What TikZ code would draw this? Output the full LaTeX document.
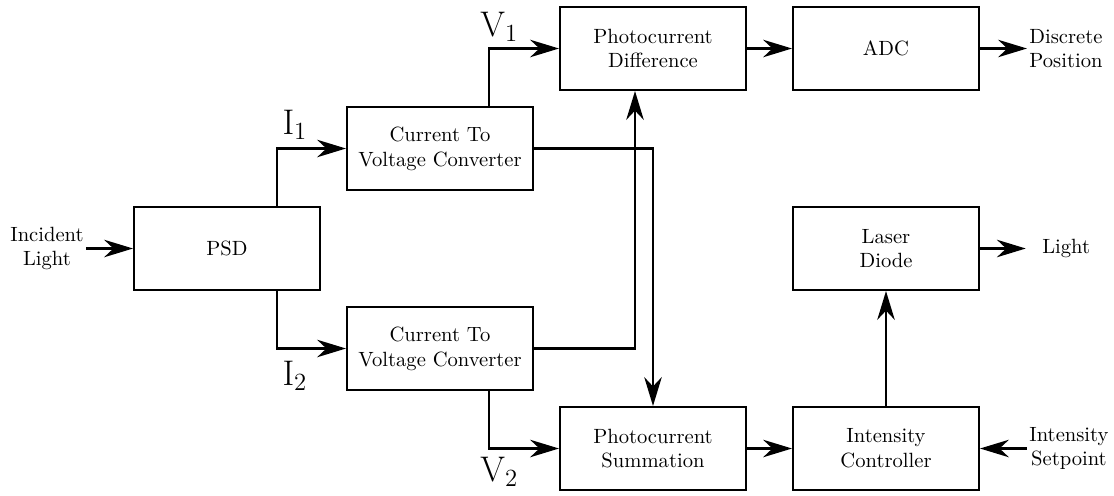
\documentclass[tikz,border=0pt]{standalone}
\usepackage{tikz}
\usetikzlibrary{positioning,arrows.meta,calc}

\begin{document}
\begin{tikzpicture}[x=1.706cm, y=1.706cm,
  blk/.style={rectangle, draw, line width=1pt, minimum width=3.173cm,
              minimum height=1.416cm, align=center, font=\normalsize},
  ar/.style={-{Stealth[length=14pt, width=8.5pt, inset=4.5pt]}, line width=1pt},
  io/.style={align=center, inner sep=1pt},
  sig/.style={font=\LARGE, inner sep=1pt}
]
\useasboundingbox (0,-0.465) rectangle (11.14,4.485);

\node[blk] (psd)   at (2.27,2) {PSD};
\node[blk] (cv1)   at (4.40,3) {Current To\\Voltage Converter};
\node[blk] (cv2)   at (4.40,1) {Current To\\Voltage Converter};
\node[blk] (diff)  at (6.53,4) {Photocurrent\\Difference};
\node[blk] (sum)   at (6.53,0) {Photocurrent\\Summation};
\node[blk] (adc)   at (8.86,4) {ADC};
\node[blk] (laser) at (8.86,2) {Laser\\Diode};
\node[blk] (ctrl)  at (8.86,0) {Intensity\\Controller};

\node[io, left=0.8cm of psd]     (inc)   {Incident\\Light};
\node[io, right=0.8cm of adc]    (pos)   {Discrete\\Position};
\node[io, right=1.02cm of laser] (light) {Light};
\node[io, right=0.8cm of ctrl]   (setp)  {Intensity\\Setpoint};

\coordinate (k1) at ($(psd)+(0.5,1)$);
\coordinate (k2) at ($(psd)+(0.5,-1)$);
\coordinate (k3) at ($(cv1)+(0.49,1)$);
\coordinate (k4) at ($(cv2)+(0.49,-1)$);
\coordinate (k5) at ($(diff.south)+(-0.18,0)$);

\draw[ar] (k1 |- psd.north) |- (cv1);
\draw[ar] (k2 |- psd.south) |- (cv2);
\draw[ar] (k3 |- cv1.north) |- (diff);
\draw[ar] (k4 |- cv2.south) |- (sum);
\draw[ar] (cv1) -| (sum);
\draw[ar] (cv2) -| (k5);

\foreach \a/\b in {inc/psd,diff/adc,adc/pos,sum/ctrl,setp/ctrl,ctrl/laser}
  \draw[ar] (\a) -- (\b);
\draw[ar, shorten >=0.24cm] (laser) -- (light);

\node[sig, above right=3pt and 1.5pt of k1] (li1) {$\mathrm{I}_1$};
\node[sig, below right=5pt and 1.5pt of k2] (li2) {$\mathrm{I}_2$};
\node[sig, above=2pt of k3, xshift=5pt]     (lv1) {$\mathrm{V}_1$};
\node[sig, below=3pt of k4, xshift=5pt]     (lv2) {$\mathrm{V}_2$};

\end{tikzpicture}
\end{document}
